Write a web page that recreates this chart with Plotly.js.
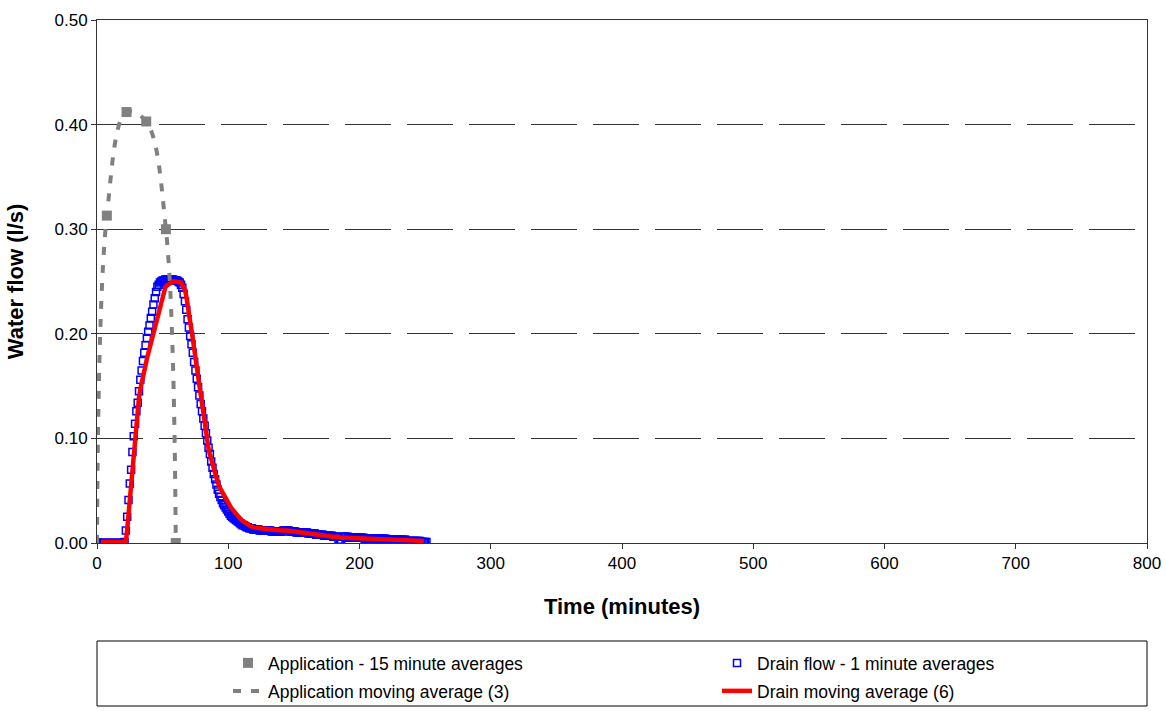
<!DOCTYPE html>
<html>
<head>
<meta charset="utf-8">
<script src="https://cdn.plot.ly/plotly-3.0.1.min.js"></script>
<style>
html,body{margin:0;padding:0;background:#fff;}
#chart{width:1166px;height:711px;}
</style>
</head>
<body>
<div id="chart"></div>
<script>
// Application - 15 minute averages (l/s)
const appTime = [0, 7.5, 22.5, 37.5, 52.5, 60];
const appFlow = [0.000, 0.313, 0.412, 0.403, 0.300, 0.000];

// Drain flow - 1 minute averages (l/s), one value per minute from t = 0
const drainFlow = [
  0,0,0,0,0,0,0,0,0,0,0,0,0,0,0,0,0,0,0,0,0,0.001,
  0.012,0.025,0.041,0.057,0.070,0.087,0.102,0.114,0.126,0.134,
  0.145,0.156,0.165,0.174,0.182,0.189,0.196,0.202,0.208,0.215,
  0.221,0.228,0.234,0.240,0.245,0.247,0.249,0.250,0.251,0.251,
  0.252,0.252,0.252,0.252,0.252,0.252,0.252,0.251,0.251,0.251,
  0.250,0.249,0.247,0.244,0.238,0.231,0.223,0.214,0.206,0.198,
  0.190,0.182,0.173,0.165,0.157,0.149,0.141,0.133,0.126,0.119,
  0.112,0.105,0.098,0.091,0.085,0.078,0.072,0.066,0.061,0.056,
  0.051,0.047,0.044,0.041,0.038,0.036,0.034,0.032,0.030,0.028,
  0.026,0.025,0.024,0.023,0.022,0.021,0.020,0.019,0.018,0.017,
  0.017,0.016,0.015,0.015,0.014,0.014,0.014,0.013,0.013,0.013,
  0.013,0.013,0.012,0.012,0.012,0.012,0.012,0.012,0.012,0.012,
  0.012,0.011,0.011,0.011,0.011,0.011,0.011,0.011,0.011,0.011,
  0.012,0.012,0.012,0.012,0.012,0.011,0.011,0.011,0.011,0.011,
  0.010,0.010,0.010,0.010,0.010,0.010,0.010,0.010,0.010,0.009,
  0.009,0.009,0.009,0.009,0.009,0.008,0.008,0.008,0.008,0.008,
  0.008,0.007,0.007,0.007,0.007,0.007,0.007,0.007,0.006,0.006,
  0.006,0.006,0.003,0.000,0.002,0.006,0.006,0.006,0.006,0.006,
  0.005,0.005,0.005,0.005,0.005,0.005,0.005,0.005,0.005,0.005,
  0.005,0.005,0.004,0.004,0.004,0.004,0.004,0.004,0.004,0.004,
  0.004,0.004,0.004,0.004,0.004,0.004,0.004,0.004,0.004,0.003,
  0.003,0.003,0.003,0.003,0.003,0.003,0.003,0.003,0.003,0.003,
  0.003,0.003,0.003,0.003,0.002,0.002,0.002,0.002,0.002,0.002,
  0.002,0.002,0.002,0.002,0.002,0.001,0.001,0.001,0.001,0.001
];
const drainTime = drainFlow.map((_, i) => i);

// Drain moving average (6)
const maTime = [3,10,20,22,23,24,25,26,27,28,29,30,31,32,33,34,35,36,37,38,39,40,42,44,46,48,50,51,52,53,54,56,58,60,62,64,65,66,67,68,69,70,71,72,73,74,75,76,77,78,79,80,81,82,83,84,85,86,87,88,89,90,92,94,96,98,100,102,104,106,108,110,113,116,119,125,132,140,145,150,160,170,180,184,186,190,200,210,220,230,240,249];
const maFlow = [0.001,0.001,0.001,0.001,0.013,0.028,0.044,0.059,0.075,0.090,0.105,0.118,0.129,0.139,0.147,0.154,0.160,0.166,0.171,0.176,0.181,0.186,0.197,0.207,0.218,0.227,0.236,0.241,0.244,0.246,0.247,0.248,0.250,0.250,0.250,0.249,0.247,0.245,0.242,0.236,0.229,0.222,0.213,0.204,0.195,0.186,0.177,0.167,0.157,0.149,0.140,0.132,0.123,0.114,0.106,0.098,0.090,0.085,0.080,0.075,0.070,0.066,0.058,0.052,0.047,0.043,0.038,0.034,0.031,0.027,0.025,0.022,0.019,0.017,0.015,0.014,0.013,0.012,0.012,0.011,0.010,0.008,0.006,0.006,0.005,0.005,0.0045,0.004,0.004,0.003,0.0025,0.002];

const seriesNames = [
  'Application - 15 minute averages',
  'Drain flow - 1 minute averages',
  'Application moving average (3)',
  'Drain moving average (6)'
];
const xTicks = [0,100,200,300,400,500,600,700,800];
const yTicks = [0,0.1,0.2,0.3,0.4,0.5];

const FONT = '"Liberation Sans", Arial, sans-serif';

const traces = [
  {
    x: appTime, y: appFlow, name: seriesNames[0], type: 'scatter', mode: 'markers',
    marker: {symbol: 'square', size: 10, color: '#808080'},
    legend: 'legend'
  },
  {
    x: drainTime, y: drainFlow, name: seriesNames[1], type: 'scatter', mode: 'markers',
    marker: {symbol: 'square-open', size: 7, color: '#0000FF', line: {color: '#0000FF', width: 1.5}},
    legend: 'legend2'
  },
  {
    x: appTime, y: appFlow, name: seriesNames[2], type: 'scatter', mode: 'lines',
    line: {color: '#808080', width: 4, dash: '8px,10px', shape: 'spline', smoothing: 1},
    legend: 'legend3'
  },
  {
    x: maTime, y: maFlow, name: seriesNames[3], type: 'scatter', mode: 'lines',
    line: {color: '#FF0000', width: 4.5},
    legend: 'legend4'
  }
];

const W = 1166, H = 711;
const plotTop = 20, plotBottom = 543, plotH = plotBottom - plotTop;
const py = px => (plotBottom - px) / plotH;
const cx = px => px / W;
const cy = px => (H - px) / H;

const legendCommon = {
  orientation: 'h', xanchor: 'left', yanchor: 'middle',
  xref: 'container', yref: 'container',
  font: {family: FONT, size: 17.5, color: '#000'},
  bgcolor: 'rgba(0,0,0,0)', borderwidth: 0
};
const row1 = cy(663), row2 = cy(691);
const col1 = cx(228), col2 = cx(717);

const layout = {
  width: W, height: H,
  margin: {l: 97, r: 19, t: plotTop, b: H - plotBottom, autoexpand: false},
  paper_bgcolor: '#fff', plot_bgcolor: '#fff',
  font: {family: FONT, size: 17, color: '#000'},
  showlegend: true,
  legend: Object.assign({}, legendCommon, {x: col1, y: row1}),
  legend2: Object.assign({}, legendCommon, {x: col2, y: row1}),
  legend3: Object.assign({}, legendCommon, {x: col1, y: row2}),
  legend4: Object.assign({}, legendCommon, {x: col2, y: row2}),
  xaxis: {
    range: [0, 800], tickvals: xTicks, ticktext: xTicks.map(String),
    showgrid: false, zeroline: false,
    showline: true, linecolor: '#333', linewidth: 1, mirror: true,
    ticks: 'outside', ticklen: 5, tickcolor: '#333',
    tickfont: {family: FONT, size: 17, color: '#000'},
    title: {text: '<b>Time (minutes)</b>', font: {family: FONT, size: 22, color: '#000'}, standoff: 26},
    automargin: false
  },
  yaxis: {
    range: [0, 0.5], tickvals: yTicks, ticktext: yTicks.map(v => v.toFixed(2)),
    showgrid: true, gridcolor: '#333', gridwidth: 1, griddash: '46px,16px',
    zeroline: false,
    showline: true, linecolor: '#333', linewidth: 1, mirror: true,
    ticks: 'outside', ticklen: 5, tickcolor: '#333',
    tickfont: {family: FONT, size: 17, color: '#000'},
    title: {text: '<b>Water flow (l/s)</b>', font: {family: FONT, size: 22, color: '#000'}, standoff: 24},
    automargin: false
  },
  shapes: [
    {type: 'rect', xref: 'paper', yref: 'paper', x0: 0, x1: 1, y0: py(706), y1: py(641),
     line: {color: '#000', width: 1}, fillcolor: 'rgba(0,0,0,0)'}
  ]
};

Plotly.newPlot('chart', traces, layout, {displayModeBar: false, staticPlot: true});
</script>
</body>
</html>
